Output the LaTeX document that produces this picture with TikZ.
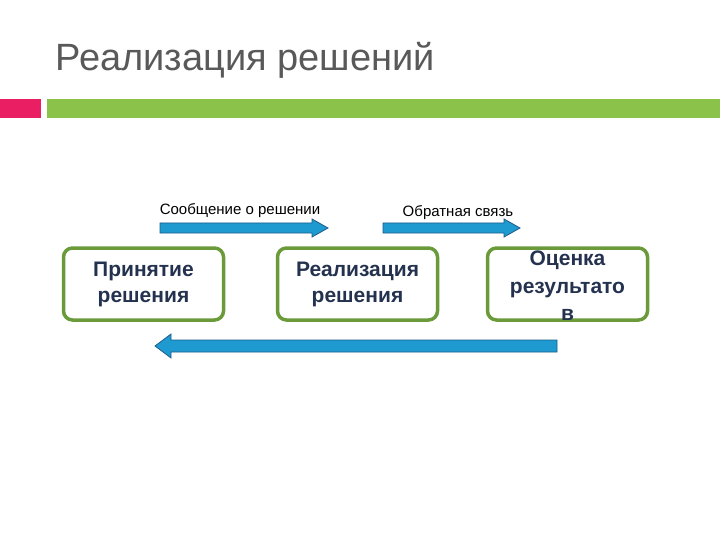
\documentclass[tikz,border=0pt]{standalone}
\usepackage{fontspec}
\setmainfont{Liberation Sans}
\usetikzlibrary{calc}
\begin{document}
\begin{tikzpicture}[x=1pt,y=-1pt,
  box/.style={draw=boxgreen,line width=3.5pt,rounded corners=9pt,minimum width=160pt,minimum height=72pt,inner sep=0pt,font=\fontsize{21}{26}\selectfont,text=navy,align=center},
  lbl/.style={font=\fontsize{15}{17}\selectfont,text=black},
  barrow/.style={fill=arrblue,draw=arrdark,line width=0.8pt}]
\definecolor{boxgreen}{HTML}{6A9A3A}
\definecolor{navy}{HTML}{24324F}
\definecolor{arrblue}{HTML}{1E9AD0}
\definecolor{arrdark}{HTML}{1A5C8A}
\definecolor{titlegray}{HTML}{595959}
\useasboundingbox (0,0) rectangle (720,540);
\node[anchor=west,text=titlegray,font=\fontsize{38}{44}\selectfont] (title) at (52,60) {Реализация решений};
\fill[fill={rgb,255:red,233;green,30;blue,99}] (0,99) rectangle (41,118);
\fill[fill={rgb,255:red,139;green,195;blue,74}] (47,99) rectangle (720,118);
\node[box] (b1) at (143.5,284) {\textbf{Принятие}\\\textbf{решения}};
\node[box] (b2) at (357.5,284) {\textbf{Реализация}\\\textbf{решения}};
\node[box] (b3) at (567.5,284) {};
\node[font=\fontsize{21}{27.5}\selectfont\bfseries,text=navy,align=center] (t3) at (567.5,286) {Оценка\\результато\\в};
\node[lbl] (l1) at (240,211) {Сообщение о решении};
\node[lbl] (l2) at (458,213) {Обратная связь};
\coordinate (a1s) at (160,228); \coordinate (a1e) at (328,228);
\coordinate (a2s) at (383,228); \coordinate (a2e) at (520,228);
\coordinate (a3s) at (557,346); \coordinate (a3e) at (155,346);
\draw[barrow] ($(a1s)+(0,-5)$) -- ++(152,0) -- ++(0,-4) -- (a1e) -- ++(-16,9) -- ++(0,-4) -- ++(-152,0) -- cycle;
\draw[barrow] ($(a2s)+(0,-5)$) -- ++(121,0) -- ++(0,-4) -- (a2e) -- ++(-16,9) -- ++(0,-4) -- ++(-121,0) -- cycle;
\draw[barrow] ($(a3s)+(0,-6)$) -- ++(-386,0) -- ++(0,-6) -- (a3e) -- ++(16,12) -- ++(0,-6) -- ++(386,0) -- cycle;
\end{tikzpicture}
\end{document}
